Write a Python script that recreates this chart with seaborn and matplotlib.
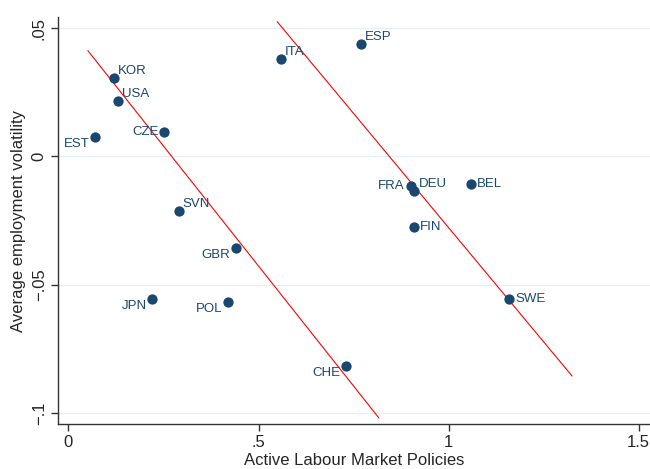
import numpy as np
import pandas as pd
import matplotlib
matplotlib.use("Agg")
import matplotlib.pyplot as plt
import seaborn as sns

# Country data
countries = ["KOR", "USA", "EST", "CZE", "ITA", "ESP", "SVN", "GBR",
             "JPN", "POL", "CHE", "FRA", "DEU", "BEL", "FIN", "SWE"]
almp = [0.12, 0.13, 0.07, 0.251, 0.559, 0.77, 0.29, 0.44,
        0.22, 0.42, 0.73, 0.90, 0.91, 1.06, 0.91, 1.16]
volatility = [0.0307, 0.0214, 0.0074, 0.0093, 0.0381, 0.0436, -0.0214, -0.0358,
              -0.0556, -0.0568, -0.0817, -0.0117, -0.0136, -0.0109, -0.0276, -0.0556]
# label placement (clock position, Stata style)
label_pos = [2, 2, 8, 9, 2, 2, 2, 8, 8, 8, 8, 9, 2, 3, 3, 3]

# the two fitted lines (endpoints)
fit1_x = [0.051, 0.817]
fit1_y = [0.0412, -0.1020]
fit2_x = [0.549, 1.325]
fit2_y = [0.0525, -0.0856]

xticks = [0, 0.5, 1, 1.5]
xticklabels = ["0", ".5", "1", "1.5"]
yticks = [0.05, 0, -0.05, -0.1]
yticklabels = [".05", "0", "\u2212.05", "\u2212.1"]

df = pd.DataFrame({"country": countries, "almp": almp, "vol": volatility, "pos": label_pos})

sns.set_style("white")
plt.rcParams["font.family"] = ["Liberation Sans", "DejaVu Sans"]

navy = "#1a476f"

fig = plt.figure(figsize=(6.5, 4.69), dpi=100)
ax = fig.add_axes([0.0892, 0.0959, 0.9108, 0.8679])

for yt in yticks:
    ax.axhline(yt, color="#e6eef1", lw=1.0, zorder=0)

sns.lineplot(x=fit1_x, y=fit1_y, color="red", lw=0.8, ax=ax, zorder=2)
sns.lineplot(x=fit2_x, y=fit2_y, color="red", lw=0.8, ax=ax, zorder=2)
sns.scatterplot(data=df, x="almp", y="vol", color=navy, s=55, edgecolor=navy,
                linewidth=0, ax=ax, zorder=3)

offsets = {2: (3, 5, "left", "center"), 3: (4, 0, "left", "center"),
           8: (-4, -5, "right", "center"), 9: (-4, 0, "right", "center")}
for _, r in df.iterrows():
    dx, dy, ha, va = offsets[r["pos"]]
    ax.annotate(r["country"], (r["almp"], r["vol"]), xytext=(dx, dy),
                textcoords="offset points", ha=ha, va=va, fontsize=9.5,
                color=navy, zorder=4)

ax.set_xlim(-0.0276, 1.53)
ax.set_ylim(-0.1043, 0.0543)
ax.set_xticks(xticks)
ax.set_xticklabels(xticklabels)
ax.set_yticks(yticks)
ax.set_yticklabels(yticklabels, rotation=90, va="center")
ax.tick_params(axis="both", direction="out", length=5, width=1, color="#333333",
               labelsize=12, pad=3, left=True, bottom=True)

for s in ["top", "right"]:
    ax.spines[s].set_visible(False)
for s in ["left", "bottom"]:
    ax.spines[s].set_color("#333333")
    ax.spines[s].set_linewidth(1)

ax.set_xlabel("Active Labour Market Policies", fontsize=12, labelpad=2)
ax.set_ylabel("Average employment volatility", fontsize=12, labelpad=4)

fig.savefig("out.png", dpi=100)
